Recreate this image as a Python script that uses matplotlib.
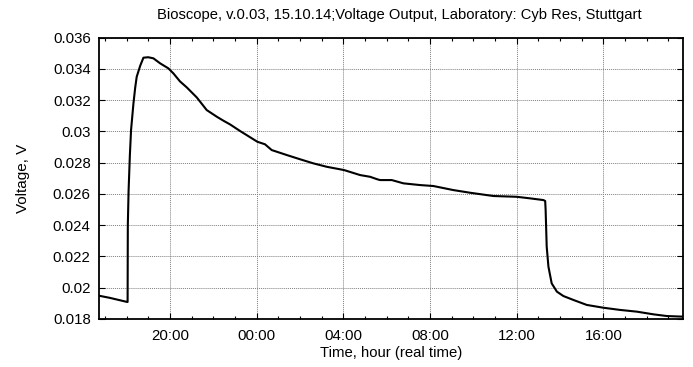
import matplotlib
matplotlib.use("Agg")
import matplotlib.pyplot as plt
from matplotlib.ticker import MultipleLocator

plt.rcParams['font.family'] = ['Liberation Sans', 'DejaVu Sans']

# time in hours since midnight of day 1 (24 = 00:00 next day)
hours = [16.72, 17.23, 18.02, 18.04, 18.05, 18.085, 18.145, 18.20, 18.31, 18.39,
         18.46, 18.62, 18.77, 18.99, 19.23, 19.54, 19.92, 20.15, 20.46, 20.77,
         21.23, 21.69, 22.16, 22.46, 22.77, 23.23, 24.03, 24.38, 24.69, 25.39,
         26.00, 26.61, 27.23, 28.03, 28.77, 29.23, 29.54, 29.69, 30.23, 30.77,
         31.54, 32.15, 33.07, 33.84, 34.92, 36.00, 36.61, 37.23, 37.31, 37.33,
         37.38, 37.46, 37.61, 37.85, 38.15, 38.61, 39.23, 40.00, 40.77, 41.54,
         42.30, 42.92, 43.67]
voltage = [0.01949, 0.01935, 0.01909, 0.01909, 0.0240, 0.0262, 0.0285, 0.0301, 0.0318, 0.0328,
           0.0335, 0.0342, 0.03472, 0.03475, 0.03468, 0.03436, 0.03404, 0.03372, 0.03320, 0.03282,
           0.03218, 0.03137, 0.03094, 0.03069, 0.03045, 0.03003, 0.02934, 0.02918, 0.02881, 0.02849,
           0.02822, 0.02796, 0.02774, 0.02753, 0.02721, 0.02710, 0.02695, 0.02689, 0.02689, 0.02668,
           0.02657, 0.02651, 0.02625, 0.02608, 0.02587, 0.02582, 0.02572, 0.02561, 0.02555, 0.0250,
           0.02263, 0.02135, 0.02028, 0.01975, 0.01947, 0.01922, 0.01890, 0.01872, 0.01858, 0.01847,
           0.01830, 0.01819, 0.01815]

xticks = [20, 24, 28, 32, 36, 40]
xtick_labels = ['20:00', '00:00', '04:00', '08:00', '12:00', '16:00']
yticks = [0.018, 0.02, 0.022, 0.024, 0.026, 0.028, 0.03, 0.032, 0.034, 0.036]
ytick_labels = ['0.018', '0.02', '0.022', '0.024', '0.026', '0.028', '0.03', '0.032', '0.034', '0.036']

fig = plt.figure(figsize=(6.93, 3.67), dpi=100)
ax = fig.add_axes([99 / 693, 1 - 319 / 367, 584 / 693, (319 - 37.7) / 367])

ax.plot(hours, voltage, color='black', lw=1.5)

ax.set_xlim(16.72, 43.67)
ax.set_ylim(0.018, 0.036)
ax.set_xticks(xticks)
ax.set_xticklabels(xtick_labels)
ax.set_yticks(yticks)
ax.set_yticklabels(ytick_labels)
ax.xaxis.set_minor_locator(MultipleLocator(1))

ax.tick_params(which='both', direction='in', top=True, right=True, labelsize=10.8)
ax.tick_params(which='major', length=4, width=0.8)
ax.tick_params(which='minor', length=2.5, width=0.8)
ax.tick_params(axis='x', pad=7)
ax.tick_params(axis='y', pad=6)

ax.grid(True, which='major', color='#808080', linestyle=(0, (1, 1)), lw=0.7)
for s in ax.spines.values():
    s.set_linewidth(1.3)

fig.text(399 / 693, 1 - 15 / 367, 'Bioscope, v.0.03, 15.10.14;Voltage Output, Laboratory: Cyb Res, Stuttgart',
         ha='center', va='center', fontsize=10.6)
fig.text(391 / 693, 1 - 353 / 367, 'Time, hour (real time)', ha='center', va='center', fontsize=10.7)
fig.text(23 / 693, 1 - 178 / 367, 'Voltage, V', ha='center', va='center', rotation=90, fontsize=11)

fig.savefig('out.png', dpi=100)
